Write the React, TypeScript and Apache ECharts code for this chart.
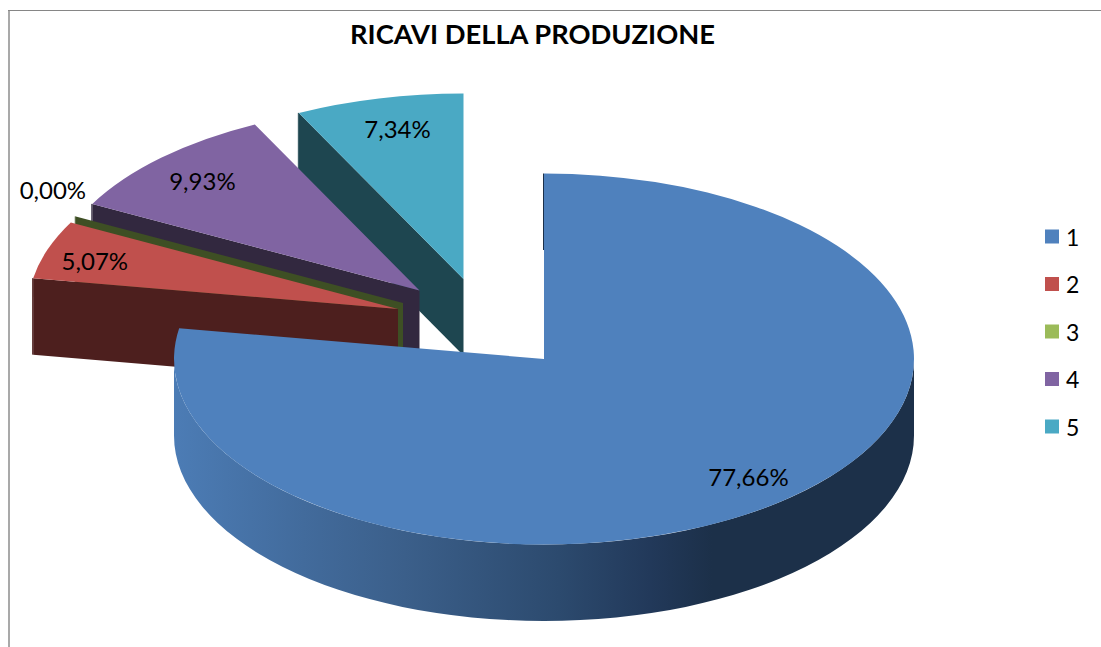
import React, { useEffect, useRef } from "react";
import * as echarts from "echarts";

const categories = ["1", "2", "3", "4", "5"];
const percentValues = [77.66, 5.07, 0.0, 9.93, 7.34];

const topColors = ["#4f81bd", "#c0504d", "#9bbb59", "#8064a2", "#4aa9c4"];
const wallColors = ["#1c3049", "#4d1f1e", "#3e4f24", "#32283f", "#1e4650"];
const seriesZ = [5, 4, 3, 2, 1];

// layout of the tilted pie
const WIDTH = 1101;
const HEIGHT = 647;
const CX = 544;
const CY = 359;
const RX = 370;
const RY = 185.5;
const DEPTH = 76.5;
const FONT = "Lato, Carlito, 'Noto Sans', sans-serif";
const explodeX = [0, -146, -141, -124.5, -80.5];
const explodeY = [0, -50, -56, -68.5, -80];
const labelFactorX = [0.856, 0.865, 1.07, 0.84, 0.78];
const labelFactorY = [0.84, 0.8, 1.3, 0.82, 0.83];
const LABEL_DY = -1;

const total = percentValues.reduce((a, b) => a + b, 0);
const rad = (d: number) => (d * Math.PI) / 180;

function startAngle(i: number) {
  let s = 0;
  for (let k = 0; k < i; k++) s += percentValues[k];
  return (s / total) * 360;
}

function point(ax: number, ay: number, deg: number, down = 0) {
  return [ax + RX * Math.sin(rad(deg)), ay - RY * Math.cos(rad(deg)) + down];
}

function arcTo(ax: number, ay: number, from: number, to: number, down = 0) {
  const p = point(ax, ay, to, down);
  const large = Math.abs(to - from) > 180 ? 1 : 0;
  const sweep = to > from ? 1 : 0;
  return `A ${RX} ${RY} 0 ${large} ${sweep} ${p[0]} ${p[1]}`;
}

function fmt(v: number) {
  return v.toFixed(2).replace(".", ",") + "%";
}

function pathEl(d: string, fill: any, extra: any = {}) {
  return {
    type: "path",
    shape: { pathData: d },
    style: { fill, stroke: "none", ...extra },
    silent: true,
  };
}

function makeRenderItem(i: number) {
  return (_params: any, api: any) => {
    const value = api.value(0);
    const a0 = startAngle(i);
    const a1 = a0 + (value / total) * 360;
    const ax = CX + explodeX[i];
    const ay = CY + explodeY[i];
    const children: any[] = [];

    // outer rim wall (only the part facing the viewer)
    const u0 = Math.max(a0, 90);
    const u1 = Math.min(a1, 270);
    if (u1 > u0) {
      const s = point(ax, ay, u0);
      const e = point(ax, ay, u1, DEPTH);
      const left = ax - RX;
      const width = RX * 2;
      const stop = (x: number) => 1 - (x - left) / width;
      children.push(
        pathEl(
          `M ${s[0]} ${s[1]} ${arcTo(ax, ay, u0, u1)} L ${e[0]} ${e[1]} ${arcTo(ax, ay, u1, u0, DEPTH)} Z`,
          new echarts.graphic.LinearGradient(1, 0, 0, 0, [
            { offset: stop(914), color: "#1c3049" },
            { offset: stop(712), color: "#1c3049" },
            { offset: stop(650), color: "#22395a" },
            { offset: stop(559), color: "#2c4a6e" },
            { offset: stop(405), color: "#3b5f8a" },
            { offset: stop(303), color: "#426b9c" },
            { offset: stop(174), color: "#4c7cb5" },
          ])
        )
      );
    }

    // cut wall along the start angle
    const o = point(ax, ay, a0);
    children.push(
      pathEl(
        `M ${ax} ${ay} L ${o[0]} ${o[1]} L ${o[0]} ${o[1] + DEPTH} L ${ax} ${ay + DEPTH} Z`,
        wallColors[i]
      )
    );
    children.push({
      type: "line",
      shape: { x1: o[0] - 0.5, y1: o[1], x2: o[0] - 0.5, y2: o[1] + DEPTH },
      style: { stroke: wallColors[i], lineWidth: 1 },
      silent: true,
    });

    // top face
    if (a1 > a0) {
      const s = point(ax, ay, a0);
      const mid = (a0 + a1) / 2;
      children.push(
        pathEl(
          `M ${ax} ${ay} L ${s[0]} ${s[1]} ${arcTo(ax, ay, a0, mid)} ${arcTo(ax, ay, mid, a1)} Z`,
          topColors[i]
        )
      );
    }

    // percentage label
    const m = rad((a0 + a1) / 2);
    children.push({
      type: "text",
      style: {
        text: fmt(value),
        x: ax + RX * Math.sin(m) * labelFactorX[i],
        y: ay - RY * Math.cos(m) * labelFactorY[i] + LABEL_DY,
        fill: "#000000",
        fontFamily: FONT,
        fontSize: 24,
        textAlign: "center",
        textVerticalAlign: "middle",
      },
      silent: true,
    });

    return { type: "group", children };
  };
}

export default function App() {
  const ref = useRef<HTMLDivElement>(null);
  useEffect(() => {
    const chart = echarts.init(ref.current!, undefined, { renderer: "svg" });
    chart.setOption({
      animation: false,
      backgroundColor: "#ffffff",
      title: {
        text: "RICAVI DELLA PRODUZIONE",
        left: 527.5,
        top: 15,
        textAlign: "center",
        textStyle: { fontFamily: FONT, fontSize: 27.3, fontWeight: "bold", color: "#000000" },
      },
      legend: {
        orient: "vertical",
        left: 1045,
        top: 225,
        padding: 0,
        icon: "rect",
        itemWidth: 14,
        itemHeight: 14,
        itemGap: 24.5,
        data: categories,
        selectedMode: false,
        textStyle: { fontFamily: FONT, fontSize: 23, color: "#000000", lineHeight: 14, padding: [0, 0, 0, 2] },
      },
      graphic: [
        {
          type: "rect",
          shape: { x: 8, y: 10, width: 2, height: HEIGHT - 10 },
          style: { fill: "#a9a9a9" },
          silent: true,
        },
        {
          type: "rect",
          shape: { x: 8, y: 10, width: WIDTH - 8, height: 1 },
          style: { fill: "#868686" },
          silent: true,
        },
      ],
      series: categories.map((name, i) => ({
        type: "custom",
        name,
        coordinateSystem: "none",
        z: seriesZ[i],
        itemStyle: { color: topColors[i] },
        renderItem: makeRenderItem(i),
        data: [[percentValues[i]]],
      })),
    });
    return () => chart.dispose();
  }, []);
  return (
    <div
      ref={ref}
      style={{ position: "fixed", left: 0, top: 0, width: WIDTH, height: HEIGHT }}
    />
  );
}
